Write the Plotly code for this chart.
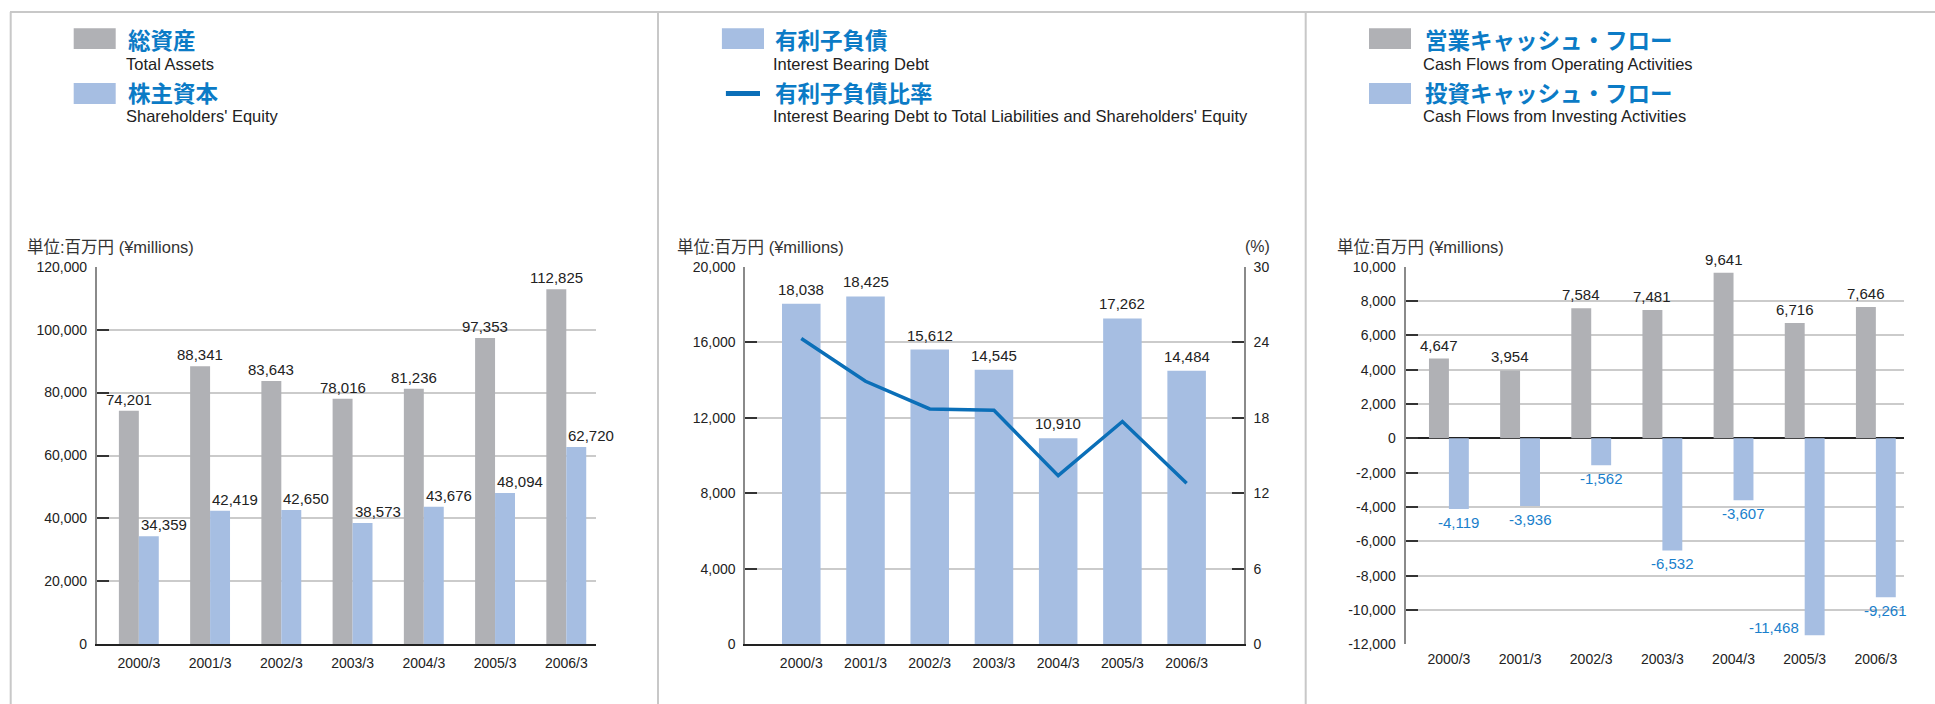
import plotly.graph_objects as go

W, H = 1935, 704

# ---------------- data ----------------
years = ["2000/3", "2001/3", "2002/3", "2003/3", "2004/3", "2005/3", "2006/3"]
total_assets = [74201, 88341, 83643, 78016, 81236, 97353, 112825]
equity = [34359, 42419, 42650, 38573, 43676, 48094, 62720]
debt = [18038, 18425, 15612, 14545, 10910, 17262, 14484]
debt_ratio = [24.3, 20.9, 18.7, 18.6, 13.4, 17.7, 12.8]
op_cf = [4647, 3954, 7584, 7481, 9641, 6716, 7646]
inv_cf = [-4119, -3936, -1562, -6532, -3607, -11468, -9261]

ticks1 = [0, 20000, 40000, 60000, 80000, 100000, 120000]
ticks2 = [0, 4000, 8000, 12000, 16000, 20000]
ticks2r = [0, 6, 12, 18, 24, 30]
ticks3 = [-12000, -10000, -8000, -6000, -4000, -2000, 0, 2000, 4000, 6000, 8000, 10000]

unit_label = "単位:百万円 (¥millions)"
legend1 = [("総資産", "Total Assets"), ("株主資本", "Shareholders' Equity")]
legend2 = [("有利子負債", "Interest Bearing Debt"),
           ("有利子負債比率", "Interest Bearing Debt to Total Liabilities and Shareholders' Equity")]
legend3 = [("営業キャッシュ・フロー", "Cash Flows from Operating Activities"),
           ("投資キャッシュ・フロー", "Cash Flows from Investing Activities")]

# ---------------- style ----------------
GRAY = "#b0b1b5"
BLUE = "#a6bee2"
LINE = "#0b6fb8"
JP_BLUE = "#0b7bc6"
NEG_BLUE = "#1a7fcc"
TXT = "#222222"
GRID = "#cbcbcb"
BORDER = "#c8c8c8"
FONT = "Liberation Sans, Arial, Noto Sans CJK JP, sans-serif"
JFONT = "Noto Sans CJK JP, Liberation Sans, sans-serif"
BARGAP = 0.44
HALF = (1 - BARGAP) / 4  # centre offset of each bar in a 2-bar group
VAL_SIZE = 15


def px(x):
    return x / W


def py(y):
    return 1 - y / H


PLOT_TOP, PLOT_BOT = 266.7, 644.3

fig = go.Figure()

# Panel 1
fig.add_trace(go.Bar(x=years, y=total_assets, marker_color=GRAY, marker_line_width=0,
                     xaxis="x", yaxis="y", name="Total Assets"))
fig.add_trace(go.Bar(x=years, y=equity, marker_color=BLUE, marker_line_width=0,
                     xaxis="x", yaxis="y", name="Shareholders' Equity"))
# Panel 2
fig.add_trace(go.Bar(x=years, y=debt, marker_color=BLUE, marker_line_width=0, width=0.6,
                     xaxis="x2", yaxis="y2", name="Interest Bearing Debt"))
fig.add_trace(go.Scatter(x=years, y=debt_ratio, mode="lines",
                         line=dict(color=LINE, width=3.5),
                         xaxis="x2", yaxis="y3", name="Ratio"))
# Panel 3
fig.add_trace(go.Bar(x=years, y=op_cf, marker_color=GRAY, marker_line_width=0,
                     xaxis="x3", yaxis="y4", name="Operating CF"))
fig.add_trace(go.Bar(x=years, y=inv_cf, marker_color=BLUE, marker_line_width=0,
                     xaxis="x3", yaxis="y4", name="Investing CF"))

common_x = dict(type="category", showgrid=False, zeroline=False, ticks="",
                ticklabelstandoff=5,
                tickfont=dict(family=FONT, size=14, color=TXT), fixedrange=True)
common_y = dict(ticks="inside", ticklen=12, tickwidth=1.5, tickcolor="#333",
                showgrid=True, gridcolor=GRID, gridwidth=1.5, zeroline=False,
                showline=True, linecolor="#8a8a8a", linewidth=2, ticklabelstandoff=5,
                tickfont=dict(family=FONT, size=14, color=TXT), fixedrange=True)


def fmt(v):
    return f"{v:,}"


fig.update_layout(
    width=W, height=H,
    margin=dict(l=0, r=0, t=0, b=0, autoexpand=False),
    paper_bgcolor="white", plot_bgcolor="white",
    barmode="group", bargap=BARGAP, bargroupgap=0,
    showlegend=False,
    font=dict(family=FONT, color=TXT),
    xaxis=dict(common_x, domain=[px(96.8), px(595.5)], anchor="y", range=[-0.59, 6.41],
               showline=True, linecolor="#222", linewidth=2),
    yaxis=dict(common_y, domain=[py(PLOT_BOT), py(PLOT_TOP)], anchor="x",
               range=[0, 120000], tickvals=ticks1, ticktext=[fmt(v) for v in ticks1]),
    xaxis2=dict(common_x, domain=[px(745.4), px(1243.8)], anchor="y2", range=[-0.87, 6.89],
                showline=True, linecolor="#222", linewidth=2),
    yaxis2=dict(common_y, domain=[py(PLOT_BOT), py(PLOT_TOP)], anchor="x2",
                range=[0, 20000], tickvals=ticks2, ticktext=[fmt(v) for v in ticks2]),
    yaxis3=dict(common_y, overlaying="y2", side="right", anchor="x2", showgrid=False,
                range=[0, 30], tickvals=ticks2r, ticktext=[str(v) for v in ticks2r]),
    xaxis3=dict(common_x, domain=[px(1405.5), px(1903.6)], anchor="y4", range=[-0.61, 6.39]),
    yaxis4=dict(common_y, domain=[py(PLOT_BOT), py(PLOT_TOP)], anchor="x3",
                range=[-12000, 10000], tickvals=ticks3, ticktext=[fmt(v) for v in ticks3],
                zeroline=True, zerolinecolor="#222", zerolinewidth=2),
)

ann = []
shapes = []

# value labels panel 1
for i, v in enumerate(total_assets):
    ann.append(dict(x=i - HALF, y=v, xref="x", yref="y", text=fmt(v), showarrow=False,
                    yanchor="bottom", yshift=1, font=dict(size=VAL_SIZE, color=TXT, family=FONT)))
for i, v in enumerate(equity):
    ann.append(dict(x=i + HALF, y=v, xref="x", yref="y", text=fmt(v), showarrow=False,
                    yanchor="bottom", yshift=1, xshift=15,
                    font=dict(size=VAL_SIZE, color=TXT, family=FONT)))
# panel 2
for i, v in enumerate(debt):
    ann.append(dict(x=i, y=v, xref="x2", yref="y2", text=fmt(v), showarrow=False,
                    yanchor="bottom", yshift=4, font=dict(size=VAL_SIZE, color=TXT, family=FONT)))
# panel 3
for i, v in enumerate(op_cf):
    ann.append(dict(x=i - HALF, y=v, xref="x3", yref="y4", text=fmt(v), showarrow=False,
                    yanchor="bottom", yshift=3, font=dict(size=VAL_SIZE, color=TXT, family=FONT)))
for i, v in enumerate(inv_cf):
    if v - 1500 < ticks3[0]:
        ann.append(dict(x=i, y=v, xref="x3", yref="y4", text=fmt(v), showarrow=False,
                        xanchor="right", yanchor="middle", xshift=-4, yshift=8,
                        font=dict(size=VAL_SIZE, color=NEG_BLUE, family=FONT)))
    else:
        ann.append(dict(x=i + HALF, y=v, xref="x3", yref="y4", text=fmt(v), showarrow=False,
                        yanchor="top", yshift=-3,
                        font=dict(size=VAL_SIZE, color=NEG_BLUE, family=FONT)))

# unit labels
for x0 in (24.5, 675.0, 1335.0):
    ann.append(dict(x=px(x0), y=py(246.7), xref="paper", yref="paper", text=unit_label,
                    showarrow=False, xanchor="left", yanchor="middle",
                    font=dict(size=16.5, color="#333", family=FONT)))
ann.append(dict(x=px(1257.6), y=py(246.7), xref="paper", yref="paper", text="(%)",
                showarrow=False, xanchor="center", yanchor="middle",
                font=dict(size=16, color="#333", family=FONT)))


# legends
def add_legend(items, sw_x0, sw_x1, text_x, kinds, colors):
    rows = [(38.5, 64.5, 28.3, 49.0), (92.5, 116.0, 83.0, 104.0)]
    for (jp, en), kind, col, (yj, ye, s0, s1) in zip(items, kinds, colors, rows):
        if kind == "box":
            shapes.append(dict(type="rect", xref="paper", yref="paper",
                               x0=px(sw_x0), x1=px(sw_x1), y0=py(s1), y1=py(s0),
                               fillcolor=col, line_width=0))
        else:
            ym = (s0 + s1) / 2
            shapes.append(dict(type="line", xref="paper", yref="paper",
                               x0=px(sw_x0 + 4), x1=px(sw_x1 - 4), y0=py(ym), y1=py(ym),
                               line=dict(color=col, width=5)))
        ann.append(dict(x=px(text_x), y=py(yj), xref="paper", yref="paper", text=jp,
                        showarrow=False, xanchor="left", yanchor="middle",
                        font=dict(size=22.5, color=JP_BLUE, family=JFONT, weight="bold")))
        ann.append(dict(x=px(text_x - 2), y=py(ye), xref="paper", yref="paper", text=en,
                        showarrow=False, xanchor="left", yanchor="middle",
                        font=dict(size=16.5, color=TXT, family=FONT)))


add_legend(legend1, 73.7, 115.7, 126.0, ["box", "box"], [GRAY, BLUE])
add_legend(legend2, 721.9, 764.0, 773.0, ["box", "line"], [BLUE, LINE])
add_legend(legend3, 1369.0, 1411.0, 1423.0, ["box", "box"], [GRAY, BLUE])

# panel borders
shapes.append(dict(type="line", xref="paper", yref="paper", x0=px(10), x1=1, y0=py(12), y1=py(12),
                   line=dict(color=BORDER, width=2)))
for xb in (10.7, 658.0, 1305.7):
    shapes.append(dict(type="line", xref="paper", yref="paper", x0=px(xb), x1=px(xb),
                       y0=py(12), y1=0, line=dict(color=BORDER, width=2)))

fig.update_layout(annotations=ann, shapes=shapes)

fig.write_html("out.html", config={"displayModeBar": False},
               post_script="document.body.style.margin='0px';document.body.style.overflow='hidden';")
